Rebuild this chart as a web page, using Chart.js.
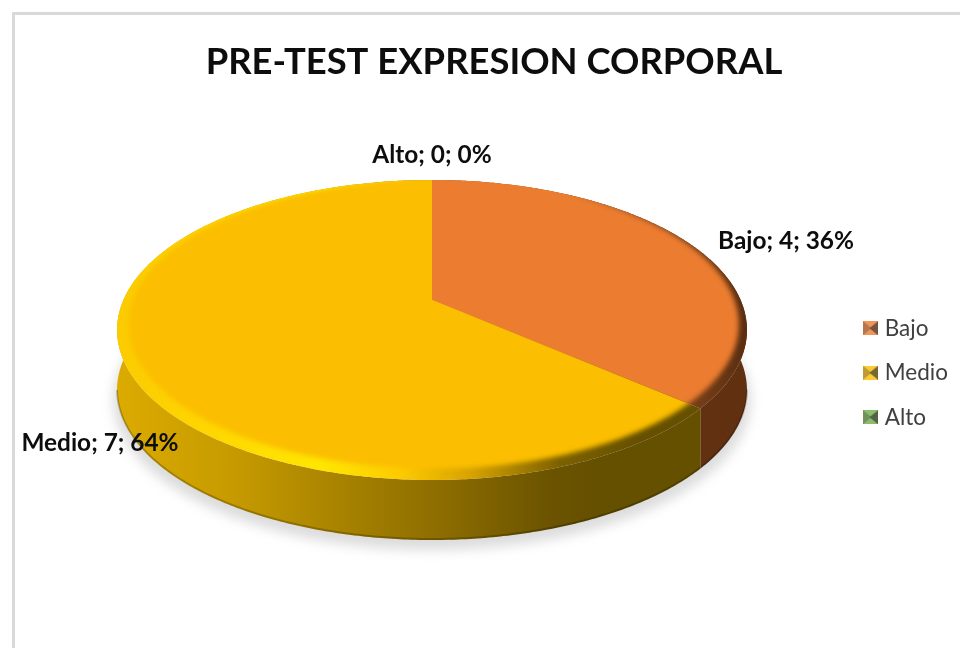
<!DOCTYPE html>
<html>
<head>
<meta charset="utf-8">
<style>html,body{margin:0;padding:0;background:#fff}canvas{display:block}</style>
<script src="https://cdn.jsdelivr.net/npm/chart.js@4"></script>
</head>
<body>
<canvas id="c" width="960" height="648"></canvas>
<script>
const chartTitle = "PRE-TEST EXPRESION CORPORAL";
const categories = ["Bajo", "Medio", "Alto"];
const values = [4, 7, 0];
const faceColors = ["#EB7C30", "#FBBE00", "#70AD47"];

// drawing style, not data
const FONT = "Lato, Carlito, 'Open Sans', sans-serif";
const CX = 432, C = 308.6, A = 300, B = -84, K = 0.2, DROP = 60;
const labelSpots = [[786, 241], [100, 443], [432, 155]];

function proj(u, v, dy) {
  const w = 1 + K * v;
  return [CX + C * u / w, (A + B * v) / w + (dy || 0)];
}
function samples(a0, a1) {
  const n = Math.max(2, Math.ceil((a1 - a0) / 0.01));
  const out = [];
  for (let i = 0; i <= n; i++) {
    const a = a0 + (a1 - a0) * i / n;
    out.push([Math.cos(a), -Math.sin(a)]);
  }
  return out;
}
function tracePts(ctx, pts) { pts.forEach((p, i) => i ? ctx.lineTo(p[0], p[1]) : ctx.moveTo(p[0], p[1])); }
function grad(ctx, stops) {
  const g = ctx.createLinearGradient(117, 0, 747, 0);
  stops.forEach(s => g.addColorStop((s[0] - 117) / 630, s[1]));
  return g;
}
const sideStops = [
  [[117, "#703a14"], [747, "#613010"]],
  [[117, "#dcab00"], [230, "#c79b00"], [340, "#a88300"], [450, "#8a6b00"], [550, "#6b5300"], [600, "#655000"], [747, "#655000"]],
  [[117, "#4a7430"], [747, "#37561f"]]
];
const rimStops = [
  [[117, "#eb7c30"], [560, "#eb7c30"], [640, "#94501f"], [747, "#5a2e10"]],
  [[117, "#fbcb00"], [200, "#ffd500"], [320, "#ffe600"], [400, "#fdcb00"], [470, "#d8a300"], [560, "#7d6100"], [640, "#665000"], [747, "#665000"]],
  [[117, "#70ad47"], [747, "#3a5a25"]]
];

const pie3d = {
  id: "pie3d",
  beforeDraw(chart) {
    const ctx = chart.ctx;
    ctx.save();
    ctx.fillStyle = "#fff";
    ctx.fillRect(0, 0, 960, 648);
    ctx.fillStyle = "#d9d9d9";
    ctx.fillRect(12, 12, 948, 3);
    ctx.fillRect(12, 12, 3, 636);
    ctx.restore();
  },
  afterLayout(chart) {
    const t = chart.titleBlock;
    t.left = 28; t.right = 960; t.top = 40; t.bottom = 94;
    const l = chart.legend;
    l.left = 845.5; l.right = 960; l.top = 295; l.bottom = 640;
  },
  beforeDatasetDraw(chart) {
    const ctx = chart.ctx;
    const arcs = chart.getDatasetMeta(0).data;
    const circle = samples(0, Math.PI * 2);

    // soft ground shadow
    ctx.save();
    ctx.filter = "blur(6px)";
    ctx.fillStyle = "#dcdcdc";
    ctx.beginPath();
    tracePts(ctx, circle.map(p => proj(p[0] * 1.012, p[1], DROP + 10)));
    ctx.closePath();
    ctx.fill();
    ctx.restore();

    // side wall
    arcs.forEach((el, i) => {
      if (el.endAngle - el.startAngle < 1e-6) return;
      const s = samples(el.startAngle, el.endAngle);
      ctx.save();
      ctx.fillStyle = grad(ctx, sideStops[i]);
      ctx.beginPath();
      tracePts(ctx, s.map(p => proj(p[0], p[1], 0)).concat(s.slice().reverse().map(p => proj(p[0], p[1], DROP))));
      ctx.closePath();
      ctx.fill();
      // darker lower edge
      const front = s.filter(p => p[1] < -K);
      if (front.length > 1) {
        ctx.strokeStyle = "rgba(0,0,0,0.22)";
        ctx.lineWidth = 2;
        ctx.beginPath();
        tracePts(ctx, front.map(p => proj(p[0], p[1], DROP - 1)));
        ctx.stroke();
      }
      ctx.restore();
    });

    // top face with bevelled rim
    arcs.forEach((el, i) => {
      if (el.endAngle - el.startAngle < 1e-6) return;
      const s = samples(el.startAngle, el.endAngle);
      ctx.save();
      ctx.beginPath();
      tracePts(ctx, [proj(0, 0)].concat(s.map(p => proj(p[0], p[1]))));
      ctx.closePath();
      ctx.clip();
      ctx.fillStyle = grad(ctx, rimStops[i]);
      ctx.fillRect(0, 0, 960, 648);
      ctx.filter = "blur(2.5px)";
      ctx.fillStyle = el.options.backgroundColor;
      ctx.beginPath();
      const sc = 0.975, v0 = 1.06, u0 = 0.005;
      tracePts(ctx, circle.map(p => proj(u0 + sc * p[0], v0 - sc * (v0 - p[1]))));
      ctx.closePath();
      ctx.fill();
      ctx.restore();
    });
    return false;
  },
  afterDatasetsDraw(chart) {
    const ctx = chart.ctx;
    const total = values.reduce((a, b) => a + b, 0);
    ctx.save();
    ctx.font = "bold 24.4px " + FONT;
    ctx.fillStyle = "#0d0d0d";
    ctx.textAlign = "center";
    ctx.textBaseline = "middle";
    categories.forEach((c, i) => {
      const txt = c + "; " + values[i] + "; " + Math.round(values[i] / total * 100) + "%";
      ctx.fillText(txt, labelSpots[i][0], labelSpots[i][1]);
    });
    ctx.restore();
  }
};

function legendIcon(color) {
  const k = document.createElement("canvas");
  k.width = 15; k.height = 14;
  const x = k.getContext("2d");
  x.fillStyle = color; x.fillRect(0, 0, 15, 14);
  x.fillStyle = "#000";
  x.globalAlpha = 0.3;
  x.beginPath(); x.moveTo(0, 0); x.lineTo(8.5, 7); x.lineTo(0, 14); x.closePath(); x.fill();
  x.globalAlpha = 0.65;
  x.beginPath(); x.moveTo(15, 0); x.lineTo(6.5, 7); x.lineTo(15, 14); x.closePath(); x.fill();
  x.globalAlpha = 0.2;
  x.fillStyle = "#fff";
  x.fillRect(0, 0, 15, 14);
  return k;
}

new Chart(document.getElementById("c"), {
  type: "pie",
  plugins: [pie3d],
  data: {
    labels: categories,
    datasets: [{ data: values, backgroundColor: faceColors, borderWidth: 0 }]
  },
  options: {
    responsive: false,
    animation: false,
    events: [],
    plugins: {
      tooltip: { enabled: false },
      title: {
        display: true,
        text: chartTitle,
        color: "#0d0d0d",
        font: { family: FONT, size: 36.4, weight: "bold" },
        padding: 0
      },
      legend: {
        display: true,
        position: "right",
        align: "start",
        labels: {
          usePointStyle: true,
          pointStyleWidth: 6,
          boxWidth: 15,
          boxHeight: 14,
          padding: 22,
          color: "#404040",
          font: { family: FONT, size: 22.5 },
          generateLabels(chart) {
            return categories.map((c, i) => ({
              text: c,
              fontColor: "#404040",
              fillStyle: faceColors[i],
              strokeStyle: faceColors[i],
              lineWidth: 0,
              pointStyle: legendIcon(faceColors[i]),
              hidden: false,
              index: i
            }));
          }
        }
      }
    }
  }
});
</script>
</body>
</html>
